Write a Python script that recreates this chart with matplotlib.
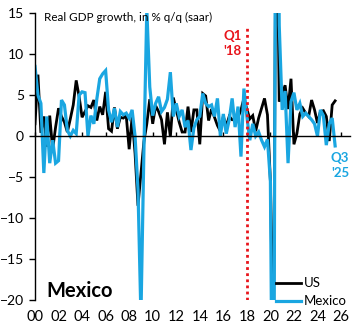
import matplotlib
matplotlib.use('Agg')
import matplotlib.pyplot as plt
import numpy as np

# Real GDP growth, % q/q saar, quarterly from 2000Q1 to 2025Q3
us_gdp = [
    1.5, 7.5, 0.4, 2.4,     # 2000
    -1.3, 2.5, -1.6, 1.1,   # 2001
    3.4, 2.4, 1.7, 0.5,     # 2002
    2.1, 3.8, 6.8, 4.8,     # 2003
    2.3, 3.0, 3.7, 3.5,     # 2004
    4.4, 1.9, 3.6, 2.6,     # 2005
    5.4, 0.9, 0.6, 3.5,     # 2006
    0.9, 2.3, 2.2, 2.5,     # 2007
    -1.6, 2.3, -2.1, -8.5,  # 2008
    -4.6, -0.7, 1.5, 4.5,   # 2009
    1.5, 3.7, 3.0, 2.0,     # 2010
    -1.0, 2.9, -0.1, 4.7,   # 2011
    3.2, 1.7, 0.5, 0.5,     # 2012
    3.6, 0.5, 3.2, 3.2,     # 2013
    -1.0, 5.2, 4.9, 1.9,    # 2014
    3.3, 2.3, 1.3, 0.6,     # 2015
    2.4, 1.2, 2.4, 2.0,     # 2016
    2.0, 2.3, 3.2, 4.6,     # 2017
    3.3, 2.1, 2.5, 0.6,     # 2018
    2.2, 3.4, 4.6, 2.6,     # 2019
    -5.5, -28.0, 34.8, 4.2, # 2020
    5.2, 6.2, 3.3, 7.0,     # 2021
    -1.0, 0.3, 2.7, 3.4,    # 2022
    2.8, 2.4, 4.4, 3.2,     # 2023
    1.6, 3.0, 3.1, 2.4,     # 2024
    -0.6, 3.8, 4.3,         # 2025
]
mexico_gdp = [
    8.5, 5.0, 4.0, -4.5,
    2.4, -3.3, -0.5, -3.3,
    -3.0, 4.4, 3.8, 0.7,
    0.0, 0.7, 0.3, 5.0,
    5.4, 5.3, 0.0, 2.5,
    1.5, 4.5, 7.0, 7.6,
    8.0, 3.2, 1.7, 3.4,
    1.1, 3.0, 2.6, 2.8,
    2.2, 3.2, 0.0, -6.5,
    -22.0, -2.0, 15.5, 6.0,
    2.5, 4.0, 4.8, 3.0,
    3.5, 4.5, 7.8, 2.4,
    4.0, 2.4, 3.2, 1.1,
    1.9, -1.7, 1.0, 2.0,
    2.4, 5.2, 4.0, 3.6,
    3.8, 2.4, 4.6, 0.0,
    2.7, 0.3, 2.0, 4.6,
    1.1, 3.6, -2.5, 5.8,
    2.4, -0.5, 1.5, 0.0,
    0.5, -0.5, -1.3, -0.4,
    -5.5, -53.0, 58.0, 13.5,
    3.2, 5.5, -3.3, 4.2,
    5.3, 3.2, 4.0, 2.4,
    2.8, 2.4, 2.0, 1.5,
    0.0, 3.2, 2.5, -1.1,
    1.5, 2.2, -1.2,
]
start_year = 2000
marker_year = 2018          # Q1 '18
tick_years = list(range(2000, 2027, 2))
tick_labels = [f"{y % 100:02d}" for y in tick_years]

US_COLOR = 'black'
MX_COLOR = '#1AA6E1'
RED = '#E8141B'

plt.rcParams.update({
    "font.family": ["Lato", "DejaVu Sans"],
    "font.size": 10,
})

quarters = start_year + np.arange(len(us_gdp)) / 4.0

fig = plt.figure(figsize=(3.59, 3.29), dpi=100)
ax = fig.add_axes([0.0975, 0.088, 0.877, 0.872])

ax.plot(quarters, us_gdp, color=US_COLOR, lw=2.0, label='US', solid_joinstyle='miter')
ax.plot(quarters, mexico_gdp, color=MX_COLOR, lw=2.3, label='Mexico', solid_joinstyle='miter')
ax.axvline(marker_year, ymin=0, ymax=(13.5 + 20) / 35, color=RED, lw=2, ls=(0, (1, 1.2)))

ax.set_xlim(2000, 2026.75)
ax.set_ylim(-20, 15)
ax.set_yticks([-20, -15, -10, -5, 0, 5, 10, 15])
ax.tick_params(axis='y', direction='out', length=4, width=1, labelsize=10, pad=4)

# x axis runs through zero with inward ticks; year labels sit along the bottom
for s in ('top', 'right'):
    ax.spines[s].set_visible(False)
ax.spines['bottom'].set_position(('data', 0))
ax.spines['bottom'].set_linewidth(1)
ax.spines['left'].set_linewidth(1)
ax.set_xticks(tick_years)
ax.tick_params(axis='x', direction='in', length=3, width=1, labelbottom=False)
sec = ax.secondary_xaxis(0)
sec.set_xticks(tick_years, tick_labels)
sec.spines['bottom'].set_visible(False)
sec.tick_params(length=0, labelsize=10.5, pad=7)

ax.text(2000.8, 15.1, 'Real GDP growth, in % q/q (saar)', fontsize=8.4, va='top', ha='left')
ax.text(marker_year - 1.2, 13.0, "Q1\n'18", color=RED, fontsize=9.5, fontweight='bold',
        ha='center', va='top', linespacing=1.35)
ax.text(2025.9, -1.9, "Q3\n'25", color=MX_COLOR, fontsize=9.5, fontweight='bold',
        ha='center', va='top', linespacing=1.35)
ax.text(2001.0, -18.9, 'Mexico', fontsize=14.5, fontweight='bold', va='center', ha='left')

ax.legend(loc='lower right', frameon=False, fontsize=9.5, handlelength=1.9,
          handletextpad=0.25, labelspacing=0.45, borderaxespad=0.0,
          bbox_to_anchor=(1.008, -0.044))

fig.savefig('out.png', dpi=100, facecolor='white')
